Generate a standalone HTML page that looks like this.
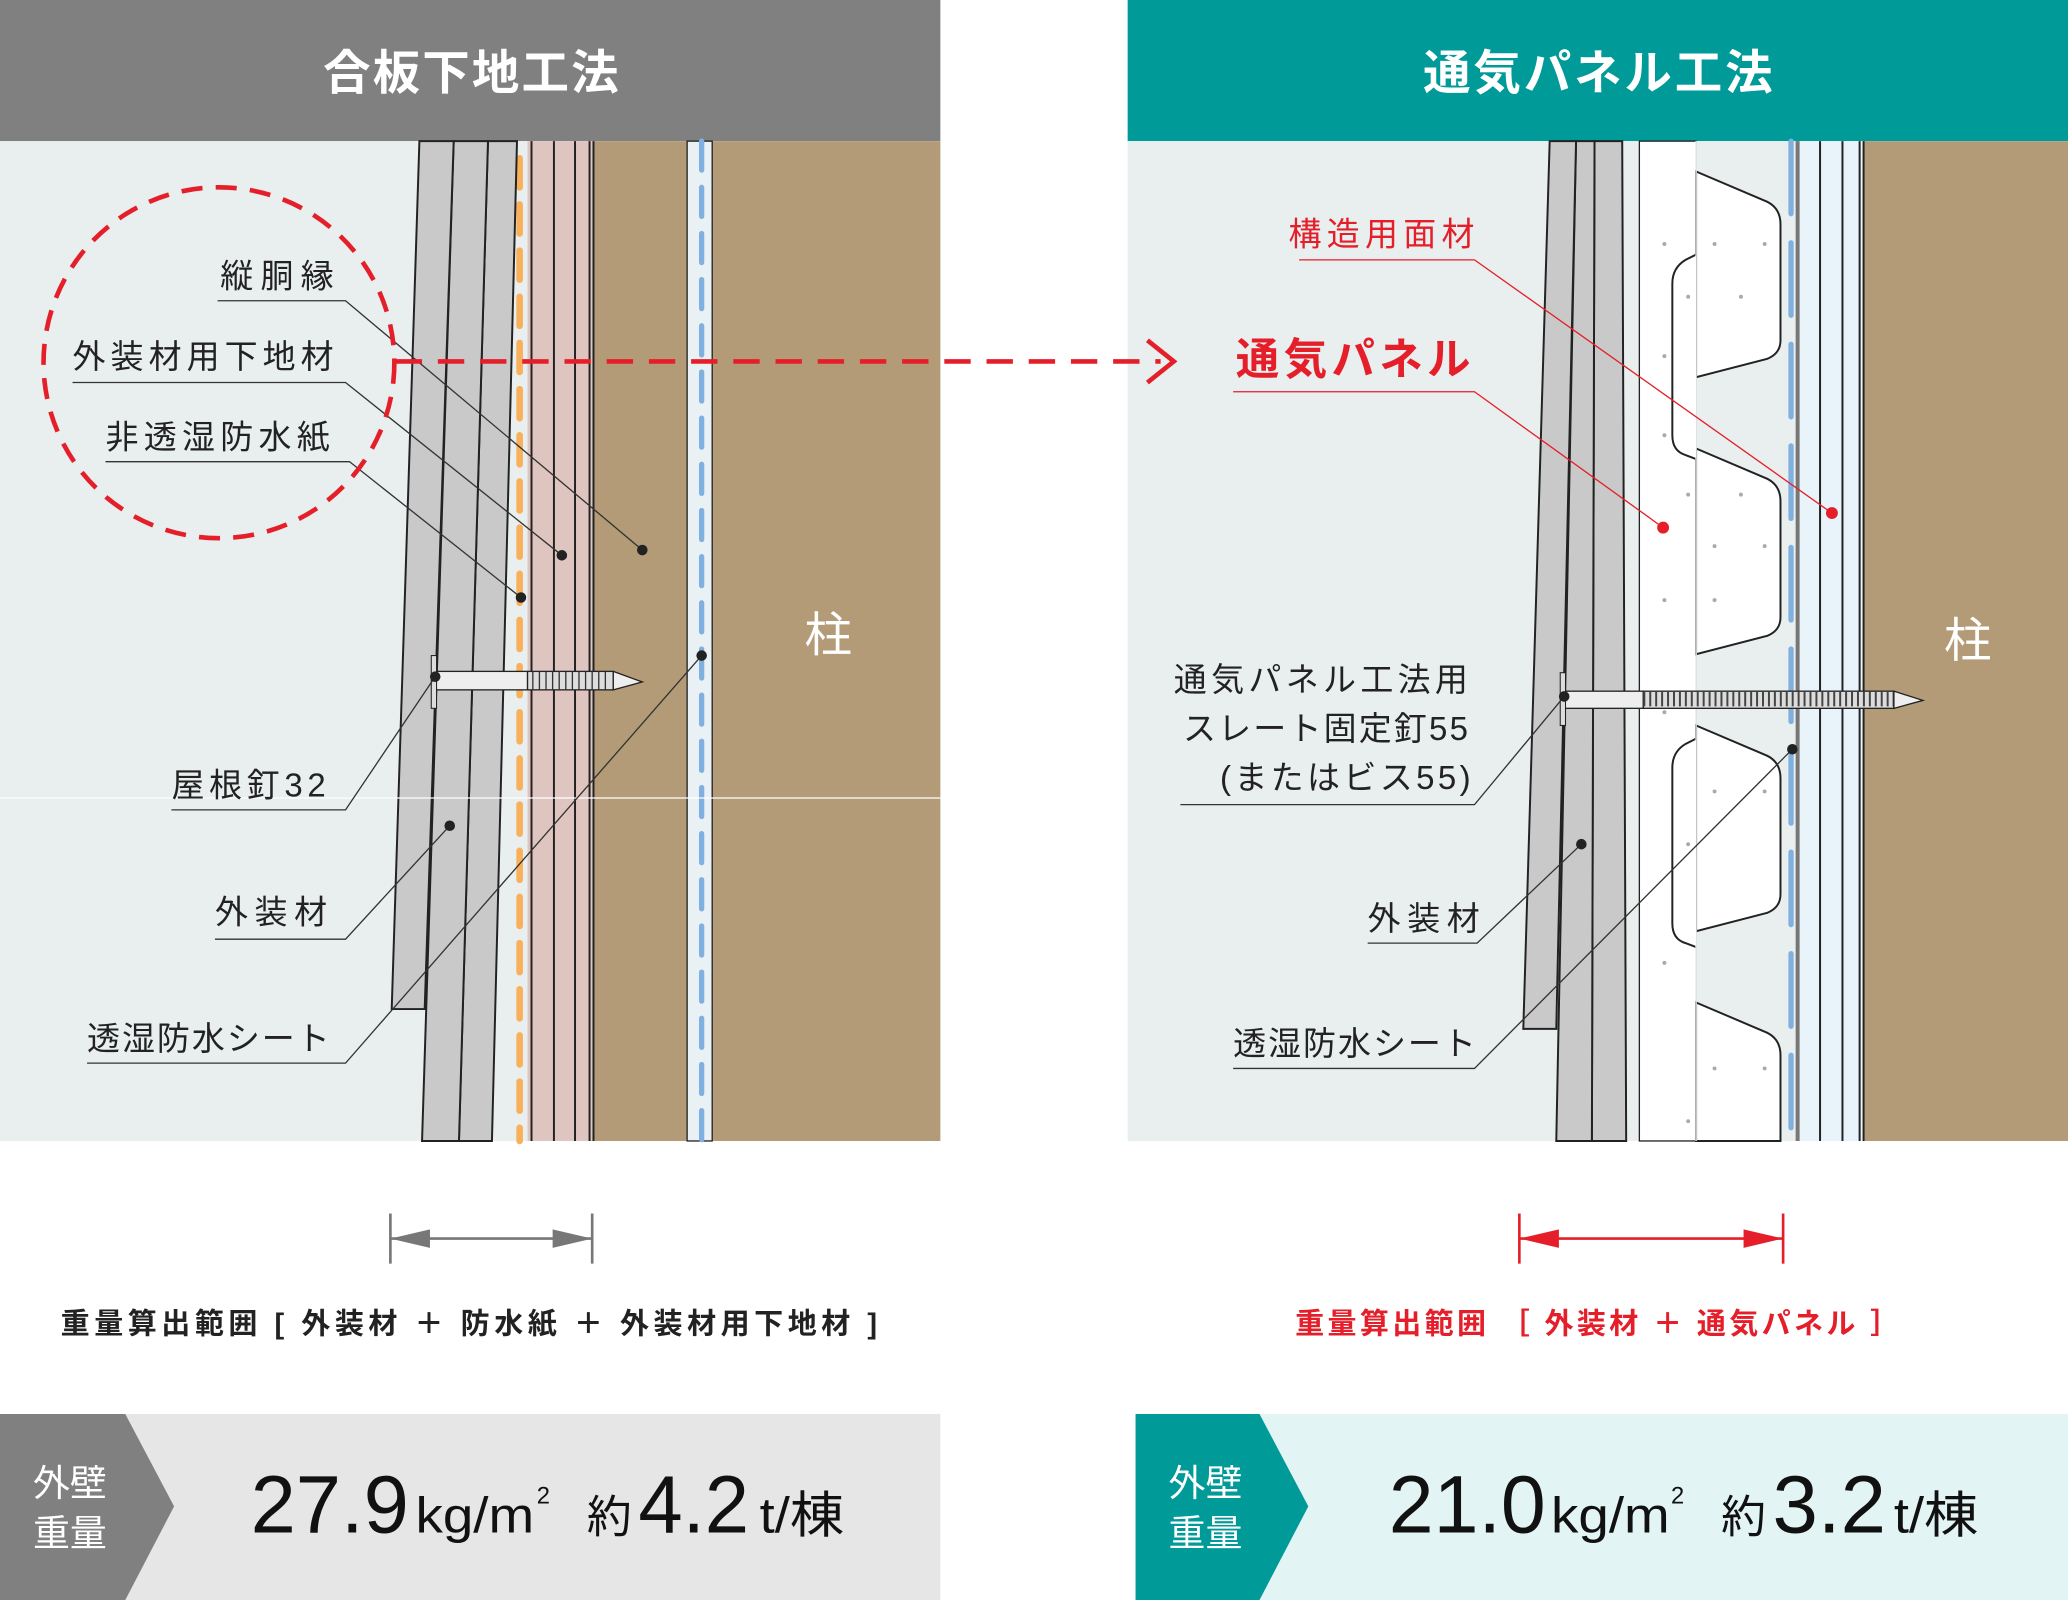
<!DOCTYPE html>
<html><head><meta charset="utf-8"><style>
html,body{margin:0;padding:0;background:#fff}
svg{display:block}
text{font-family:"Liberation Sans","Noto Sans CJK JP",sans-serif}
</style></head><body>
<svg width="2068" height="1600" viewBox="0 0 1568 1213" preserveAspectRatio="none" xmlns="http://www.w3.org/2000/svg">
<!-- headers -->
<rect x="0" y="0" width="713" height="107" fill="#808080"/>
<text x="245" y="68" font-size="36" font-weight="bold" fill="#fff" textLength="224" lengthAdjust="spacing">合板下地工法</text>
<rect x="855" y="0" width="713" height="107" fill="#009a98"/>
<text x="1079" y="68" font-size="36" font-weight="bold" fill="#fff" textLength="265" lengthAdjust="spacing">通気パネル工法</text>

<!-- LEFT PANEL -->
<rect x="0" y="107" width="713" height="758" fill="#e9eeee"/>
<rect x="450" y="107" width="263" height="758" fill="#b39b77"/>
<rect x="521" y="107" width="19" height="758" fill="#eaf1f5" stroke="#222" stroke-width="1"/>
<line x1="532" y1="107" x2="532" y2="865" stroke="#7fb0e0" stroke-width="4" stroke-dasharray="22,13" stroke-linecap="round"/>
<rect x="400" y="107" width="50" height="758" fill="#dfc5c0"/>
<g stroke="#222" stroke-width="1.5"><line x1="403" y1="107" x2="403" y2="865"/><line x1="420" y1="107" x2="420" y2="865"/><line x1="436" y1="107" x2="436" y2="865"/><line x1="447" y1="107" x2="447" y2="865"/><line x1="450" y1="107" x2="450" y2="865"/></g>
<line x1="394" y1="120" x2="394" y2="865" stroke="#f8b05a" stroke-width="5" stroke-dasharray="22,13" stroke-linecap="round"/>
<g fill="#c9c9c9" stroke="#222" stroke-width="1.5">
<polygon points="370,107 392,107 373,865 348,865"/>
<polygon points="344,107 370,107 348,865 320,865"/>
<polygon points="318,107 344,107 322,765 297,765"/>
</g>
<line x1="0" y1="605" x2="713" y2="605" stroke="#fff" stroke-width="1"/>
<!-- nail left -->
<rect x="330" y="509" width="70" height="14" fill="#eee" stroke="#222" stroke-width="1"/>
<rect x="400" y="509" width="65" height="14" fill="#ddd" stroke="#222" stroke-width="1"/>
<g stroke="#333" stroke-width="1"><path d="M404 509v14M409 509v14M414 509v14M419 509v14M424 509v14M429 509v14M434 509v14M439 509v14M444 509v14M449 509v14M454 509v14M459 509v14"/></g>
<polygon points="465,509 487,517 465,523" fill="#eee" stroke="#222" stroke-width="1"/>
<rect x="327" y="497" width="4" height="40" fill="#ddd" stroke="#222" stroke-width="0.8"/>
<text x="628" y="494" font-size="36" fill="#fff" text-anchor="middle">柱</text>

<!-- left labels -->
<g font-size="25" fill="#222" lengthAdjust="spacing">
<text x="167" y="218" textLength="86">縦胴縁</text>
<text x="55" y="279" textLength="198">外装材用下地材</text>
<text x="80" y="340" textLength="170">非透湿防水紙</text>
<text x="130" y="604" textLength="117">屋根釘32</text>
<text x="163" y="700" textLength="85">外装材</text>
<text x="66" y="796" textLength="184">透湿防水シート</text>
</g>
<g fill="none" stroke="#333" stroke-width="1">
<polyline points="165,228 262,228 487,417"/>
<polyline points="55,290 262,290 426,421"/>
<polyline points="80,350 265,350 395,453"/>
<polyline points="130,614 262,614 330,513"/>
<polyline points="163,712 262,712 341,626"/>
<polyline points="66,806 262,806 532,497"/>
</g>
<g fill="#222"><circle cx="487" cy="417" r="4"/><circle cx="426" cy="421" r="4"/><circle cx="395" cy="453" r="4"/><circle cx="330" cy="513" r="4"/><circle cx="341" cy="626" r="4"/><circle cx="532" cy="497" r="4"/></g>

<!-- RIGHT PANEL -->
<rect x="855" y="107" width="713" height="758" fill="#e9eeee"/>
<rect x="1413" y="107" width="155" height="758" fill="#b39b77"/>
<rect x="1362" y="107" width="51" height="758" fill="#e8f3fa"/>
<g stroke="#222" stroke-width="1.5"><line x1="1380" y1="107" x2="1380" y2="865"/><line x1="1397" y1="107" x2="1397" y2="865"/><line x1="1410" y1="107" x2="1410" y2="865"/><line x1="1413" y1="107" x2="1413" y2="865"/></g>
<line x1="1363" y1="107" x2="1363" y2="865" stroke="#777" stroke-width="3"/>
<rect x="1243" y="107" width="43" height="758" fill="#fff" stroke="#222" stroke-width="1"/>
<g fill="#fff" stroke="#222" stroke-width="1.5">
<path d="M1286 130 L1340 153 Q1350 158 1350 170 L1350 258 Q1350 268 1340 272 L1286 286 Z"/>
<path d="M1286 340 L1340 363 Q1350 368 1350 380 L1350 468 Q1350 478 1340 482 L1286 496 Z"/>
<path d="M1286 550 L1340 573 Q1350 578 1350 590 L1350 678 Q1350 688 1340 692 L1286 706 Z"/>
<path d="M1286 760 L1340 783 Q1350 788 1350 800 L1350 865 L1286 865 Z"/>
<path d="M1286 193 L1278 197 Q1268 203 1268 215 L1268 330 Q1268 342 1278 345 L1286 348"/>
<path d="M1286 560 L1278 564 Q1268 570 1268 582 L1268 700 Q1268 712 1278 715 L1286 718"/>
</g>
<line x1="1286" y1="107" x2="1286" y2="865" stroke="#fff" stroke-width="1"/>
<line x1="1358" y1="107" x2="1358" y2="865" stroke="#7fb0e0" stroke-width="4" stroke-dasharray="55,22" stroke-linecap="round"/>
<g fill="#aaa"><circle cx="1262" cy="185" r="1.5"/><circle cx="1300" cy="185" r="1.5"/><circle cx="1338" cy="185" r="1.5"/><circle cx="1280" cy="225" r="1.5"/><circle cx="1320" cy="225" r="1.5"/><circle cx="1262" cy="270" r="1.5"/><circle cx="1262" cy="330" r="1.5"/><circle cx="1280" cy="375" r="1.5"/><circle cx="1320" cy="375" r="1.5"/><circle cx="1300" cy="414" r="1.5"/><circle cx="1338" cy="414" r="1.5"/><circle cx="1262" cy="455" r="1.5"/><circle cx="1300" cy="455" r="1.5"/><circle cx="1262" cy="540" r="1.5"/><circle cx="1300" cy="600" r="1.5"/><circle cx="1338" cy="600" r="1.5"/><circle cx="1280" cy="640" r="1.5"/><circle cx="1262" cy="730" r="1.5"/><circle cx="1300" cy="810" r="1.5"/><circle cx="1338" cy="810" r="1.5"/><circle cx="1280" cy="850" r="1.5"/></g>
<g fill="#c9c9c9" stroke="#222" stroke-width="1.5">
<polygon points="1209,107 1230,107 1233,865 1207,865"/>
<polygon points="1195,107 1209,107 1207,865 1180,865"/>
<polygon points="1175,107 1195,107 1180,780 1155,780"/>
</g>
<!-- nail right -->
<rect x="1186" y="524" width="60" height="13" fill="#eee" stroke="#222" stroke-width="1"/>
<rect x="1246" y="524" width="190" height="13" fill="#ddd" stroke="#222" stroke-width="1"/>
<line x1="1246" y1="530" x2="1436" y2="530" stroke="#444" stroke-width="11" stroke-dasharray="1.5,3"/>
<polygon points="1436,524 1458,531 1436,537" fill="#eee" stroke="#222" stroke-width="1"/>
<rect x="1183" y="510" width="4" height="40" fill="#ddd" stroke="#222" stroke-width="0.8"/>
<text x="1492" y="498" font-size="36" fill="#fff" text-anchor="middle">柱</text>

<!-- dashed circle and arrow -->
<circle cx="166" cy="275" r="133" fill="none" stroke="#e51f2a" stroke-width="3.5" stroke-dasharray="16,10"/>
<line x1="300" y1="274" x2="880" y2="274" stroke="#e51f2a" stroke-width="3.5" stroke-dasharray="20,12"/>
<polyline points="870,258 890,274 870,290" fill="none" stroke="#e51f2a" stroke-width="3.5"/>

<!-- right labels -->
<text x="977" y="186" font-size="25" fill="#e51f2a" textLength="141" lengthAdjust="spacing">構造用面材</text>
<text x="937" y="284" font-size="33" font-weight="bold" fill="#e51f2a" textLength="178" lengthAdjust="spacing">通気パネル</text>
<g font-size="25" fill="#222" lengthAdjust="spacing">
<text x="890" y="524" textLength="223">通気パネル工法用</text>
<text x="897" y="561" textLength="216">スレート固定釘55</text>
<text x="925" y="598" textLength="190">(またはビス55)</text>
<text x="1037" y="705" textLength="85">外装材</text>
<text x="935" y="800" textLength="184">透湿防水シート</text>
</g>
<g fill="none" stroke="#e51f2a" stroke-width="1">
<polyline points="985,197 1118,197 1389,389"/>
<polyline points="935,297 1118,297 1261,400"/>
</g>
<g fill="#e51f2a"><circle cx="1389" cy="389" r="4.5"/><circle cx="1261" cy="400" r="4.5"/></g>
<g fill="none" stroke="#333" stroke-width="1">
<polyline points="895,610 1118,610 1186,528"/>
<polyline points="1037,715 1120,715 1199,640"/>
<polyline points="935,810 1118,810 1359,568"/>
</g>
<g fill="#222"><circle cx="1186" cy="528" r="4"/><circle cx="1199" cy="640" r="4"/><circle cx="1359" cy="568" r="4"/></g>

<!-- dimension arrows -->
<g stroke="#777" stroke-width="2" fill="#777">
<line x1="296" y1="920" x2="296" y2="958"/><line x1="449" y1="920" x2="449" y2="958"/>
<line x1="296" y1="939" x2="449" y2="939"/>
<polygon points="296,939 326,932 326,946" stroke="none"/><polygon points="449,939 419,932 419,946" stroke="none"/>
</g>
<g stroke="#e51f2a" stroke-width="2" fill="#e51f2a">
<line x1="1152" y1="920" x2="1152" y2="958"/><line x1="1352" y1="920" x2="1352" y2="958"/>
<line x1="1152" y1="939" x2="1352" y2="939"/>
<polygon points="1152,939 1182,932 1182,946" stroke="none"/><polygon points="1352,939 1322,932 1322,946" stroke="none"/>
</g>
<text x="46" y="1011" font-size="22" font-weight="bold" fill="#222" textLength="619" lengthAdjust="spacing">重量算出範囲 [ 外装材 ＋ 防水紙 ＋ 外装材用下地材 ]</text>
<text x="982" y="1011" font-size="22" font-weight="bold" fill="#e51f2a" textLength="458" lengthAdjust="spacing">重量算出範囲 ［ 外装材 ＋ 通気パネル ］</text>

<!-- bottom bars -->
<rect x="0" y="1072" width="713" height="141" fill="#e6e6e6"/>
<polygon points="0,1072 95,1072 132,1142 95,1213 0,1213" fill="#808080"/>
<text x="25" y="1134" font-size="28" fill="#fff">外壁</text>
<text x="25" y="1172" font-size="28" fill="#fff">重量</text>
<g fill="#111" lengthAdjust="spacingAndGlyphs">
<text x="190" y="1162" font-size="62" textLength="120" lengthAdjust="spacingAndGlyphs">27.9</text>
<text x="315" y="1162" font-size="38" textLength="90" lengthAdjust="spacingAndGlyphs">kg/m</text>
<text x="407" y="1140" font-size="18">2</text>
<text x="445" y="1162" font-size="34">約</text>
<text x="484" y="1162" font-size="62" textLength="84" lengthAdjust="spacingAndGlyphs">4.2</text>
<text x="576" y="1162" font-size="38" textLength="64" lengthAdjust="spacingAndGlyphs">t/棟</text>
</g>

<rect x="861" y="1072" width="707" height="141" fill="#e3f4f4"/>
<polygon points="861,1072 955,1072 992,1142 955,1213 861,1213" fill="#009a98"/>
<text x="886" y="1134" font-size="28" fill="#fff">外壁</text>
<text x="886" y="1172" font-size="28" fill="#fff">重量</text>
<g fill="#111">
<text x="1053" y="1162" font-size="62" textLength="119" lengthAdjust="spacingAndGlyphs">21.0</text>
<text x="1176" y="1162" font-size="38" textLength="90" lengthAdjust="spacingAndGlyphs">kg/m</text>
<text x="1267" y="1140" font-size="18">2</text>
<text x="1305" y="1162" font-size="34">約</text>
<text x="1344" y="1162" font-size="62" textLength="86" lengthAdjust="spacingAndGlyphs">3.2</text>
<text x="1436" y="1162" font-size="38" textLength="64" lengthAdjust="spacingAndGlyphs">t/棟</text>
</g>
</svg>
</body></html>
